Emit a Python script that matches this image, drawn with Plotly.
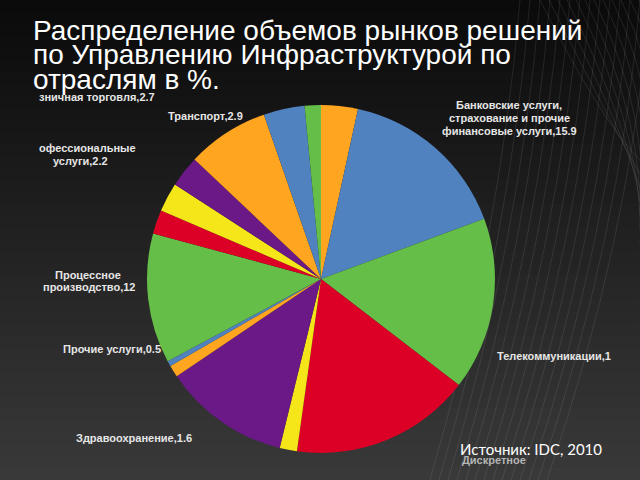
import plotly.graph_objects as go

# Data (clockwise from 12 o'clock)
categories = [
    "Сегмент A",
    "Банковские услуги, страхование и прочие финансовые услуги",
    "Телекоммуникации",
    "Дискретное производство",
    "Здравоохранение",
    "Сегмент B",
    "Сегмент C",
    "Прочие услуги",
    "Процессное производство",
    "Профессиональные услуги",
    "Розничная торговля",
    "Транспорт",
    "Сегмент D",
    "Сегмент E",
    "Сегмент F",
]
values = [3.4, 15.9, 16.0, 16.7, 1.6, 11.7, 1.1, 0.5, 12.0, 2.2, 2.7, 2.9, 7.6, 3.8, 1.5]
colors = ["#FFA51F", "#5082C0", "#64BE48", "#DC0026", "#F5E619", "#6A1987",
          "#FFA51F", "#5082C0", "#64BE48", "#DC0026", "#F5E619", "#6A1987",
          "#FFA51F", "#5082C0", "#64BE48"]

title_lines = ["Распределение объемов рынков решений",
               "по Управлению Инфраструктурой по",
               "отраслям в %."]

fig = go.Figure()
fig.add_trace(go.Pie(
    labels=categories, values=values, sort=False, direction="clockwise",
    rotation=0, marker=dict(colors=colors, line=dict(width=0)),
    textinfo="none", hoverinfo="label+value", showlegend=False,
    domain=dict(x=[0.2297, 0.7734], y=[0.0563, 0.7813]),
))

# background gradient bands
shapes = []
n = 40
for i in range(n):
    t = i / (n - 1)
    c = int(11 + t * 46)
    shapes.append(dict(type="rect", xref="paper", yref="paper", layer="below",
                       x0=0, x1=1, y0=1 - (i + 1) / n, y1=1 - i / n + 0.001,
                       line=dict(width=0), fillcolor=f"rgb({c},{c},{c})"))

# faint decorative mesh at right
def P(x, y):
    return f"{x / 640:.4f},{1 - y / 480:.4f}"
for k in range(14):
    xs = 520 + k * 10
    xe = 430 + k * 9
    path = f"M{P(xs, 0)} Q{P(xs - 20, 240)} {P(xe, 480)}"
    shapes.append(dict(type="path", xref="paper", yref="paper", layer="below", path=path,
                       line=dict(color="rgba(200,200,200,0.12)", width=1)))
for k in range(14):
    xs = 540 + k * 9
    path = f"M{P(xs, 0)} Q{P(xs + 60, 120)} {P(640, 160 + k * 14)}"
    shapes.append(dict(type="path", xref="paper", yref="paper", layer="below", path=path,
                       line=dict(color="rgba(200,200,200,0.12)", width=1)))

anns = []
for i, line in enumerate(title_lines):
    anns.append(dict(text=line, x=31 / 640, y=1 - (48 + i * 24.5) / 480, xref="paper", yref="paper",
                     xanchor="left", yanchor="bottom", showarrow=False,
                     font=dict(family="Liberation Sans, Arial", size=28, color="white")))

lab_font = dict(family="Liberation Sans, Arial", size=11, color="#E6E6E6")
def lab(text, x, y, anchor="left"):
    anns.append(dict(text="<b>" + text + "</b>", x=x / 640, y=1 - y / 480, xref="paper", yref="paper",
                     xanchor=anchor, yanchor="middle", showarrow=False, font=lab_font))

lab("зничная торговля,2.7", 37, 97)
lab("Транспорт,2.9", 166, 116)
lab("офессиональные", 37, 148)
lab("услуги,2.2", 51, 161)
lab("Процессное", 53, 275)
lab("производство,12", 41, 287)
lab("Прочие услуги,0.5", 61, 349)
lab("Здравоохранение,1.6", 74, 438)
lab("Телекоммуникации,1", 495, 356)
lab("Банковские услуги,", 509, 105, "center")
lab("страхование и прочие", 509, 118, "center")
lab("финансовые услуги,15.9", 509, 131, "center")
anns.append(dict(text="<b>Дискретное</b>", x=460 / 640, y=1 - 460 / 480, xref="paper", yref="paper",
                 xanchor="left", yanchor="middle", showarrow=False,
                 font=dict(family="Liberation Sans, Arial", size=11, color="#B5B5B5")))
anns.append(dict(text="Источник: IDC, 2010", x=458 / 640, y=1 - 449 / 480, xref="paper", yref="paper",
                 xanchor="left", yanchor="middle", showarrow=False,
                 font=dict(family="Lato, Liberation Sans", size=15, color="white")))

fig.update_layout(width=640, height=480, margin=dict(l=0, r=0, t=0, b=0),
                  paper_bgcolor="#1e1e1e", plot_bgcolor="#1e1e1e",
                  shapes=shapes, annotations=anns)
fig.write_html("out.html", config={"displayModeBar": False},
               post_script="document.body.style.margin='0';document.body.style.background='#111';")
